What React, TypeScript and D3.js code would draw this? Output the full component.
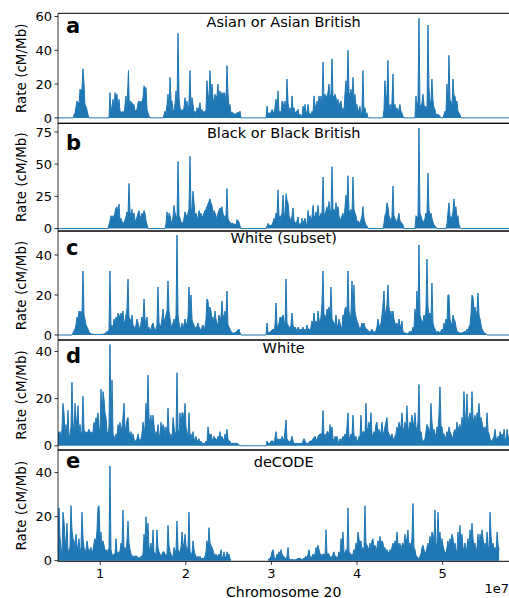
import * as d3 from "d3";

// [position in Mb, rate in cM/Mb]; null = no data
type Pt = [number, number | null];

const asian: Pt[] = [
  [4.0, 0], [6.82, 0], [7.06, 3], [7.29, 10], [7.52, 8], [7.64, 17], [7.76, 16], [7.87, 17], [7.99, 29], [8.11, 20], [8.22, 8], [8.4, 6], [8.57, 2], [8.69, 0],
  [11.03, 0], [11.14, 15], [11.26, 3], [11.5, 11], [11.61, 3], [11.73, 15], [11.85, 13], [11.96, 14], [12.08, 5], [12.2, 11], [12.31, 4], [12.55, 3], [12.66, 4], [12.78, 2], [13.01, 13], [13.13, 5], [13.3, 28], [13.4, 6], [13.5, 10], [13.71, 9], [13.83, 7], [13.95, 8], [14.06, 4], [14.3, 5], [14.42, 9], [14.53, 10], [14.65, 8], [14.77, 10], [14.88, 9], [15.0, 12], [15.12, 19], [15.23, 17], [15.35, 18], [15.47, 5], [15.58, 3], [15.7, 1], [15.82, 0],
  [17.34, 0], [17.46, 2], [17.57, 4], [17.69, 3], [17.81, 8], [17.92, 14], [18.04, 5], [18.16, 24], [18.27, 10], [18.39, 10], [18.51, 3], [18.62, 5], [18.74, 8], [18.86, 16], [18.97, 6], [19.09, 50], [19.21, 12], [19.32, 6], [19.44, 4], [19.56, 5], [19.67, 3], [19.79, 6], [19.91, 12], [20.02, 5], [20.14, 10], [20.26, 4], [20.37, 8], [20.49, 28], [20.61, 5], [20.72, 12], [20.84, 8], [20.96, 3], [21.07, 4], [21.19, 2], [21.31, 6], [21.42, 4], [21.54, 6], [21.66, 9], [21.77, 3], [21.89, 5], [22.01, 2], [22.12, 4], [22.24, 3], [22.36, 5], [22.47, 22], [22.59, 14], [22.71, 10], [22.82, 28], [22.94, 13], [23.06, 20], [23.17, 12], [23.29, 8], [23.41, 14], [23.52, 12], [23.64, 13], [23.76, 20], [23.87, 10], [23.99, 16], [24.11, 12], [24.22, 15], [24.34, 13], [24.46, 15], [24.57, 14], [24.69, 9], [24.81, 31], [24.92, 15], [25.04, 6], [25.16, 8], [25.27, 3], [25.51, 3], [25.74, 2], [25.98, 3], [26.21, 3], [26.33, 4], [26.45, 0],
  [29.37, 0], [29.49, 7], [29.61, 2], [29.72, 3], [29.84, 2], [30.07, 5], [30.19, 4], [30.31, 2], [30.54, 11], [30.66, 4], [30.77, 16], [30.89, 3], [31.01, 4], [31.12, 2], [31.24, 10], [31.36, 9], [31.47, 5], [31.59, 10], [31.71, 3], [31.82, 23], [31.94, 9], [32.06, 4], [32.17, 6], [32.29, 2], [32.41, 13], [32.52, 5], [32.64, 6], [32.76, 3], [32.99, 4], [33.11, 5], [33.22, 2], [33.34, 2], [33.58, 1], [33.69, 7], [33.81, 3], [33.93, 8], [34.04, 2], [34.16, 4], [34.28, 8], [34.39, 3], [34.63, 2], [34.74, 4], [34.86, 3], [34.98, 13], [35.09, 4], [35.21, 8], [35.33, 10], [35.44, 4], [35.56, 13], [35.68, 9], [35.79, 13], [35.91, 6], [36.03, 33], [36.14, 10], [36.26, 14], [36.38, 12], [36.49, 13], [36.61, 15], [36.73, 20], [36.84, 12], [36.96, 14], [37.08, 35], [37.19, 13], [37.31, 12], [37.43, 14], [37.54, 12], [37.66, 8], [37.78, 11], [37.89, 6], [38.01, 9], [38.13, 10], [38.24, 4], [38.36, 6], [38.48, 3], [38.59, 14], [38.71, 22], [38.83, 14], [38.94, 40], [39.06, 15], [39.18, 13], [39.29, 17], [39.41, 12], [39.53, 24], [39.64, 10], [39.76, 14], [39.88, 6], [39.99, 8], [40.11, 3], [40.23, 5], [40.34, 7], [40.46, 2], [40.58, 4], [40.69, 28], [40.81, 4], [40.93, 6], [41.04, 2], [41.16, 3], [41.28, 0],
  [43.03, 0], [43.15, 5], [43.26, 22], [43.38, 10], [43.5, 14], [43.61, 34], [43.73, 6], [43.85, 8], [43.96, 5], [44.08, 9], [44.2, 26], [44.31, 5], [44.43, 8], [44.55, 3], [44.66, 6], [44.78, 4], [44.9, 5], [45.01, 8], [45.13, 4], [45.25, 3], [45.36, 1], [45.48, 0],
  [46.77, 0], [46.89, 13], [47.0, 4], [47.12, 10], [47.24, 59], [47.35, 8], [47.47, 6], [47.59, 9], [47.7, 14], [47.82, 8], [47.94, 5], [48.05, 7], [48.17, 3], [48.29, 55], [48.4, 18], [48.52, 10], [48.64, 9], [48.75, 23], [48.87, 10], [48.99, 6], [49.1, 5], [49.22, 2], [49.46, 2], [49.69, 1], [49.8, 0],
  [50.04, 0], [50.16, 2], [50.27, 4], [50.39, 3], [50.51, 20], [50.62, 8], [50.74, 37], [50.86, 10], [50.97, 10], [51.09, 6], [51.21, 23], [51.32, 13], [51.44, 13], [51.56, 8], [51.67, 10], [51.79, 4], [51.91, 3], [52.02, 2], [52.14, 0],
  [60.0, 0],
];

const black: Pt[] = [
  [4.0, 0], [10.91, 0], [11.03, 3], [11.14, 6], [11.26, 10], [11.38, 8], [11.5, 10], [11.61, 7], [11.73, 13], [11.85, 16], [11.96, 17], [12.08, 10], [12.2, 19], [12.31, 6], [12.43, 8], [12.55, 5], [12.66, 5], [12.78, 4], [12.9, 7], [13.01, 9], [13.13, 13], [13.25, 10], [13.36, 35], [13.48, 13], [13.6, 9], [13.71, 15], [13.83, 8], [13.95, 12], [14.06, 7], [14.18, 6], [14.3, 9], [14.42, 12], [14.53, 14], [14.65, 10], [14.77, 8], [14.88, 12], [15.0, 10], [15.12, 14], [15.23, 12], [15.35, 6], [15.47, 3], [15.58, 0],
  [17.57, 0], [17.69, 4], [17.81, 13], [17.92, 5], [18.04, 12], [18.16, 10], [18.27, 6], [18.39, 4], [18.51, 9], [18.62, 18], [18.74, 12], [18.86, 10], [18.97, 6], [19.09, 52], [19.21, 10], [19.32, 8], [19.44, 5], [19.56, 5], [19.67, 3], [19.79, 8], [19.91, 13], [20.02, 11], [20.14, 8], [20.26, 12], [20.37, 15], [20.49, 56], [20.61, 14], [20.72, 15], [20.84, 29], [20.96, 20], [21.07, 10], [21.19, 12], [21.31, 9], [21.42, 7], [21.54, 14], [21.66, 10], [21.77, 12], [21.89, 8], [22.01, 10], [22.12, 12], [22.24, 14], [22.36, 15], [22.47, 17], [22.59, 19], [22.71, 21], [22.82, 23], [22.94, 20], [23.06, 18], [23.17, 10], [23.29, 14], [23.41, 12], [23.52, 10], [23.64, 6], [23.76, 12], [23.87, 14], [23.99, 16], [24.11, 13], [24.22, 17], [24.34, 12], [24.46, 8], [24.57, 10], [24.69, 9], [24.81, 31], [24.92, 8], [25.04, 6], [25.16, 5], [25.27, 4], [25.51, 4], [25.74, 3], [25.86, 3], [25.98, 7], [26.1, 6], [26.21, 5], [26.33, 2], [26.45, 0],
  [29.37, 0], [29.49, 2], [29.61, 4], [29.84, 2], [30.07, 3], [30.19, 5], [30.31, 8], [30.42, 6], [30.54, 12], [30.66, 10], [30.77, 30], [30.89, 8], [31.01, 10], [31.12, 7], [31.24, 12], [31.36, 26], [31.47, 10], [31.59, 12], [31.71, 27], [31.82, 22], [31.94, 20], [32.06, 10], [32.17, 8], [32.29, 6], [32.41, 10], [32.52, 16], [32.64, 6], [32.76, 5], [32.87, 3], [32.99, 6], [33.11, 9], [33.22, 3], [33.34, 4], [33.46, 3], [33.58, 8], [33.69, 4], [33.81, 6], [33.93, 8], [34.04, 4], [34.16, 3], [34.28, 14], [34.39, 6], [34.51, 10], [34.63, 5], [34.74, 9], [34.86, 18], [34.98, 8], [35.09, 10], [35.21, 13], [35.33, 9], [35.44, 18], [35.56, 10], [35.68, 8], [35.79, 12], [35.91, 11], [36.03, 40], [36.14, 12], [36.26, 10], [36.38, 14], [36.49, 17], [36.61, 12], [36.73, 21], [36.84, 15], [36.96, 10], [37.08, 48], [37.19, 14], [37.31, 15], [37.43, 12], [37.54, 20], [37.66, 14], [37.78, 17], [37.89, 10], [38.01, 6], [38.13, 8], [38.24, 10], [38.36, 12], [38.48, 6], [38.59, 16], [38.71, 26], [38.83, 18], [38.94, 41], [39.06, 14], [39.18, 12], [39.29, 15], [39.41, 10], [39.53, 40], [39.64, 15], [39.76, 12], [39.88, 10], [39.99, 5], [40.11, 6], [40.23, 5], [40.34, 4], [40.46, 7], [40.58, 10], [40.69, 17], [40.81, 8], [40.93, 5], [41.04, 3], [41.16, 2], [41.28, 0],
  [43.03, 0], [43.15, 4], [43.26, 10], [43.38, 12], [43.5, 20], [43.61, 17], [43.73, 10], [43.85, 8], [43.96, 6], [44.08, 9], [44.2, 33], [44.31, 10], [44.43, 8], [44.55, 5], [44.66, 6], [44.78, 8], [44.9, 12], [45.01, 6], [45.13, 5], [45.25, 4], [45.36, 3], [45.48, 0],
  [46.77, 0], [46.89, 10], [47.0, 9], [47.12, 8], [47.24, 78], [47.35, 12], [47.47, 10], [47.59, 7], [47.7, 6], [47.82, 4], [47.94, 8], [48.05, 12], [48.17, 10], [48.29, 43], [48.4, 15], [48.52, 10], [48.64, 12], [48.75, 8], [48.87, 5], [48.99, 3], [49.1, 2], [49.22, 1], [49.34, 0],
  [50.39, 0], [50.51, 4], [50.62, 12], [50.74, 20], [50.86, 10], [50.97, 8], [51.09, 9], [51.21, 13], [51.32, 23], [51.44, 15], [51.56, 17], [51.67, 8], [51.79, 10], [51.91, 3], [52.02, 1], [52.14, 0],
  [60.0, 0],
];

const whiteSubset: Pt[] = [
  [4.0, 0], [6.7, 0], [6.82, 1], [6.94, 2], [7.06, 3], [7.17, 5], [7.29, 9], [7.41, 8], [7.52, 12], [7.64, 10], [7.76, 12], [7.87, 9], [7.99, 32], [8.11, 10], [8.22, 8], [8.34, 5], [8.46, 4], [8.57, 3], [8.69, 1.5], [8.81, 1], [8.92, 0.5], [9.39, 0.3], [9.98, 0.2], [10.44, 0.5], [10.68, 1], [10.79, 2], [10.91, 1], [11.03, 3],
  [11.14, 32], [11.26, 4], [11.38, 5], [11.5, 3], [11.61, 8], [11.73, 6], [11.85, 9], [11.96, 7], [12.08, 11], [12.2, 10], [12.31, 8], [12.43, 11], [12.55, 9], [12.66, 12], [12.78, 6], [12.9, 7], [13.01, 10], [13.13, 13], [13.25, 28], [13.36, 9], [13.48, 8], [13.6, 6], [13.71, 10], [13.83, 5], [13.95, 4], [14.06, 3], [14.18, 5], [14.3, 8], [14.42, 6], [14.53, 4], [14.65, 3], [14.77, 6], [14.88, 9], [15.0, 7], [15.12, 18], [15.23, 8], [15.35, 5], [15.47, 9], [15.58, 3], [15.7, 4], [15.82, 2], [15.93, 3], [16.05, 5], [16.17, 6], [16.28, 4], [16.4, 2], [16.52, 3], [16.63, 5], [16.75, 24], [16.87, 6], [16.98, 4], [17.1, 5], [17.22, 8], [17.34, 13], [17.45, 7], [17.57, 8], [17.69, 10], [17.81, 12], [17.92, 27], [18.04, 12], [18.16, 8], [18.27, 5], [18.39, 4], [18.51, 6], [18.62, 8], [18.74, 5], [18.86, 10], [18.97, 50], [19.09, 10], [19.21, 6], [19.32, 4], [19.44, 3], [19.56, 6], [19.67, 4], [19.79, 5], [19.91, 8], [20.02, 6], [20.14, 5], [20.26, 9], [20.37, 24], [20.49, 12], [20.61, 20], [20.72, 8], [20.84, 6], [20.96, 5], [21.07, 3], [21.19, 4], [21.31, 4], [21.42, 6], [21.54, 4], [21.66, 3], [21.77, 2], [21.89, 4], [22.01, 5], [22.12, 3], [22.24, 4], [22.36, 8], [22.47, 18], [22.59, 17], [22.71, 10], [22.82, 14], [22.94, 12], [23.06, 8], [23.17, 9], [23.29, 6], [23.41, 12], [23.52, 8], [23.64, 6], [23.76, 5], [23.87, 10], [23.99, 8], [24.11, 9], [24.22, 17], [24.34, 10], [24.46, 8], [24.57, 12], [24.69, 9], [24.81, 22], [24.92, 5], [25.04, 4], [25.16, 3], [25.27, 2], [25.39, 1], [25.51, 1], [25.74, 1], [25.98, 2], [26.21, 3], [26.33, 1], [26.45, 0],
  [29.37, 0], [29.49, 6], [29.61, 1], [29.84, 1.5], [29.96, 2], [30.19, 3], [30.31, 2], [30.42, 5], [30.54, 16], [30.66, 5], [30.77, 4], [30.89, 6], [31.01, 9], [31.12, 8], [31.24, 9], [31.36, 10], [31.47, 7], [31.59, 5], [31.71, 28], [31.82, 6], [31.94, 5], [32.06, 4], [32.17, 3], [32.29, 5], [32.41, 11], [32.52, 5], [32.64, 3], [32.76, 4], [32.87, 3], [32.99, 2], [33.11, 4], [33.22, 3], [33.34, 2], [33.46, 3], [33.58, 2], [33.69, 4], [33.81, 2], [33.93, 3], [34.04, 2], [34.16, 5], [34.28, 3], [34.39, 3], [34.51, 2], [34.63, 4], [34.74, 7], [34.86, 5], [34.98, 11], [35.09, 6], [35.21, 7], [35.33, 5], [35.44, 12], [35.56, 8], [35.68, 5], [35.79, 9], [35.91, 16], [36.03, 32], [36.14, 10], [36.26, 10], [36.38, 8], [36.49, 13], [36.61, 11], [36.73, 14], [36.84, 10], [36.96, 24], [37.08, 8], [37.19, 7], [37.31, 6], [37.43, 5], [37.54, 10], [37.66, 5], [37.78, 4], [37.89, 8], [38.01, 6], [38.13, 4], [38.24, 3], [38.36, 10], [38.48, 9], [38.59, 13], [38.71, 14], [38.83, 10], [38.94, 32], [39.06, 12], [39.18, 9], [39.29, 10], [39.41, 27], [39.53, 12], [39.64, 25], [39.76, 12], [39.88, 9], [39.99, 7], [40.11, 6], [40.23, 4], [40.34, 3], [40.46, 4], [40.58, 6], [40.69, 4], [40.81, 6], [40.93, 4], [41.04, 3], [41.16, 3], [41.28, 2], [41.39, 2], [41.51, 1], [41.74, 3], [41.86, 1], [41.98, 2], [42.1, 1], [42.21, 2], [42.33, 4], [42.45, 8], [42.56, 5], [42.68, 4], [42.8, 6], [42.92, 10], [43.03, 15], [43.15, 22], [43.26, 10], [43.38, 12], [43.5, 15], [43.61, 25], [43.73, 14], [43.85, 10], [43.96, 12], [44.08, 8], [44.2, 12], [44.31, 8], [44.43, 6], [44.55, 5], [44.66, 6], [44.78, 4], [44.9, 8], [45.01, 5], [45.13, 4], [45.25, 7], [45.36, 2], [45.48, 1], [45.71, 1], [45.95, 0.5], [46.18, 2], [46.3, 1], [46.42, 2], [46.54, 4], [46.65, 3], [46.77, 13], [46.89, 8], [47.0, 22], [47.12, 10], [47.24, 45], [47.35, 10], [47.47, 8], [47.59, 7], [47.7, 6], [47.82, 10], [47.94, 8], [48.05, 12], [48.17, 38], [48.29, 14], [48.4, 10], [48.52, 11], [48.64, 8], [48.75, 26], [48.87, 6], [48.99, 4], [49.1, 3], [49.22, 2], [49.34, 1], [49.46, 2], [49.69, 1], [49.92, 3], [50.04, 2], [50.16, 6], [50.27, 4], [50.39, 8], [50.51, 6], [50.62, 20], [50.74, 20], [50.86, 8], [50.97, 6], [51.09, 5], [51.21, 10], [51.32, 8], [51.44, 7], [51.56, 4], [51.67, 2], [51.79, 1.5], [52.02, 1], [52.26, 1], [52.49, 1.5], [52.61, 2], [52.73, 1], [52.84, 3], [52.96, 2], [53.08, 4], [53.2, 5], [53.31, 10], [53.43, 20], [53.55, 19], [53.66, 12], [53.78, 14], [53.9, 10], [54.02, 12], [54.13, 21], [54.25, 10], [54.37, 8], [54.49, 5], [54.6, 3], [54.72, 2], [54.84, 1], [54.95, 1], [55.07, 0.5], [55.19, 0],
  [60.0, 0],
];

const white: Pt[] = [
  [5.07, 6], [5.19, 5], [5.3, 6], [5.42, 3], [5.54, 7], [5.65, 18], [5.77, 14], [5.89, 4], [6.0, 9], [6.12, 4], [6.24, 15], [6.35, 3], [6.47, 5], [6.59, 8], [6.7, 27], [6.82, 10], [6.94, 5], [7.06, 18], [7.17, 8], [7.29, 12], [7.41, 17], [7.52, 6], [7.64, 9], [7.76, 5], [7.87, 6], [7.99, 21], [8.11, 7], [8.22, 5], [8.34, 6], [8.46, 5], [8.57, 6], [8.69, 7], [8.81, 5], [8.92, 6], [9.04, 5], [9.16, 6], [9.28, 10], [9.39, 8], [9.51, 12], [9.63, 10], [9.74, 14], [9.86, 8], [9.98, 5], [10.09, 24], [10.21, 12], [10.33, 23], [10.44, 20], [10.56, 14], [10.68, 12], [10.79, 6], [10.91, 5], [11.03, 8], [11.14, 43], [11.26, 10], [11.38, 28], [11.5, 5], [11.61, 4], [11.73, 3], [11.85, 5], [11.96, 4], [12.08, 9], [12.2, 6], [12.31, 10], [12.43, 7], [12.55, 8], [12.66, 12], [12.78, 18], [12.9, 7], [13.01, 8], [13.13, 11], [13.25, 12], [13.36, 6], [13.48, 4], [13.6, 6], [13.71, 3], [13.83, 5], [13.95, 3], [14.06, 2], [14.18, 2], [14.3, 3], [14.42, 5], [14.53, 3], [14.65, 2], [14.77, 3], [14.88, 5], [15.0, 10], [15.12, 6], [15.23, 8], [15.35, 18], [15.47, 12], [15.58, 30], [15.7, 12], [15.82, 8], [15.93, 13], [16.05, 6], [16.17, 13], [16.28, 9], [16.4, 4], [16.52, 6], [16.63, 4], [16.75, 9], [16.87, 5], [16.98, 3], [17.1, 10], [17.22, 5], [17.34, 9], [17.45, 8], [17.57, 4], [17.69, 8], [17.81, 5], [17.92, 16], [18.04, 6], [18.16, 4], [18.27, 5], [18.39, 3], [18.51, 12], [18.62, 8], [18.74, 5], [18.86, 6], [18.97, 31], [19.09, 7], [19.21, 5], [19.32, 14], [19.44, 8], [19.56, 14], [19.67, 14], [19.79, 10], [19.91, 18], [20.02, 8], [20.14, 6], [20.26, 3], [20.37, 14], [20.49, 4], [20.61, 5], [20.72, 3], [20.84, 6], [20.96, 3], [21.07, 2], [21.19, 4], [21.31, 2], [21.42, 2], [21.54, 3], [21.66, 1], [21.77, 2], [21.89, 1], [22.01, 1], [22.24, 1], [22.36, 2], [22.47, 1], [22.59, 8], [22.71, 5], [22.82, 4], [22.94, 5], [23.06, 3], [23.17, 2], [23.29, 4], [23.41, 3], [23.52, 3], [23.64, 2], [23.76, 4], [23.87, 3], [23.99, 6], [24.11, 2], [24.22, 4], [24.34, 3], [24.46, 2], [24.57, 5], [24.69, 3], [24.81, 7], [24.92, 3], [25.04, 2], [25.16, 2], [25.27, 1], [25.51, 1], [25.74, 1], [25.98, 1], [26.21, 0.5], [26.33, 0],
  [29.37, 0], [29.49, 2], [29.61, 1], [29.84, 1], [29.96, 2], [30.19, 2], [30.31, 1], [30.54, 6], [30.66, 2], [30.77, 3], [30.89, 2], [31.01, 3], [31.12, 2], [31.24, 4], [31.36, 3], [31.47, 2], [31.71, 11], [31.82, 3], [31.94, 2], [32.06, 2], [32.17, 1], [32.41, 4], [32.52, 2], [32.64, 1], [32.87, 1], [33.11, 1], [33.34, 1], [33.58, 1], [33.69, 2], [33.81, 3], [34.04, 1], [34.28, 1], [34.51, 2], [34.74, 2], [34.86, 3], [35.09, 4], [35.33, 2], [35.44, 4], [35.68, 5], [35.91, 5], [36.03, 15], [36.14, 4], [36.26, 5], [36.38, 3], [36.49, 6], [36.61, 6], [36.73, 4], [36.84, 9], [36.96, 5], [37.08, 8], [37.19, 3], [37.31, 2], [37.43, 4], [37.54, 3], [37.66, 4], [37.78, 2], [37.89, 1], [38.01, 3], [38.13, 2], [38.24, 3], [38.36, 4], [38.48, 3], [38.59, 5], [38.71, 4], [38.83, 8], [38.94, 14], [39.06, 4], [39.18, 3], [39.29, 5], [39.41, 4], [39.53, 13], [39.64, 5], [39.76, 3], [39.88, 4], [39.99, 2], [40.11, 2], [40.23, 4], [40.34, 3], [40.46, 13], [40.58, 4], [40.69, 6], [40.81, 6], [40.93, 4], [41.04, 18], [41.16, 8], [41.28, 6], [41.39, 10], [41.51, 7], [41.63, 14], [41.74, 5], [41.86, 4], [41.98, 6], [42.1, 5], [42.21, 9], [42.33, 10], [42.45, 5], [42.56, 7], [42.68, 5], [42.8, 6], [42.92, 10], [43.03, 4], [43.15, 6], [43.26, 8], [43.38, 10], [43.5, 12], [43.61, 6], [43.73, 5], [43.85, 4], [43.96, 4], [44.08, 5], [44.2, 3], [44.31, 3], [44.43, 4], [44.55, 5], [44.66, 8], [44.78, 6], [44.9, 10], [45.01, 8], [45.13, 8], [45.25, 14], [45.36, 8], [45.48, 6], [45.6, 10], [45.71, 7], [45.83, 17], [45.95, 8], [46.07, 6], [46.18, 10], [46.3, 9], [46.42, 13], [46.54, 10], [46.65, 8], [46.77, 14], [46.89, 8], [47.0, 6], [47.12, 10], [47.24, 26], [47.35, 6], [47.47, 6], [47.59, 3], [47.7, 2], [47.82, 2], [47.94, 3], [48.05, 6], [48.17, 9], [48.29, 8], [48.4, 7], [48.52, 5], [48.64, 18], [48.75, 10], [48.87, 6], [48.99, 7], [49.1, 5], [49.22, 4], [49.34, 8], [49.46, 7], [49.57, 13], [49.69, 25], [49.81, 8], [49.92, 8], [50.04, 5], [50.16, 5], [50.27, 4], [50.39, 3], [50.51, 6], [50.62, 4], [50.74, 8], [50.86, 6], [50.97, 5], [51.09, 4], [51.21, 3], [51.32, 6], [51.44, 7], [51.56, 5], [51.67, 10], [51.79, 6], [51.91, 8], [52.02, 9], [52.14, 6], [52.26, 12], [52.38, 8], [52.49, 23], [52.61, 14], [52.73, 8], [52.84, 22], [52.96, 10], [53.08, 12], [53.2, 14], [53.31, 10], [53.43, 23], [53.55, 12], [53.66, 10], [53.78, 13], [53.9, 9], [54.02, 14], [54.13, 12], [54.25, 18], [54.37, 11], [54.49, 12], [54.6, 10], [54.72, 8], [54.84, 6], [54.95, 8], [55.07, 6], [55.19, 14], [55.31, 6], [55.42, 5], [55.54, 3], [55.66, 2], [55.78, 2], [55.89, 3], [56.01, 4], [56.13, 7], [56.25, 3], [56.36, 3], [56.48, 4], [56.6, 3], [56.71, 6], [56.83, 4], [56.95, 5], [57.06, 3], [57.18, 7], [57.3, 3], [57.42, 2], [57.53, 7], [57.65, 4], [57.77, 3], [57.88, 4],
];

const decode: Pt[] = [
  [5.07, 8], [5.19, 24], [5.3, 11], [5.42, 6], [5.54, 2], [5.65, 22], [5.77, 18], [5.89, 10], [6.0, 7], [6.12, 17], [6.24, 3], [6.35, 5], [6.47, 6], [6.59, 25], [6.7, 14], [6.82, 10], [6.94, 9], [7.06, 6], [7.17, 12], [7.29, 7], [7.41, 5], [7.52, 10], [7.64, 4], [7.76, 6], [7.87, 22], [7.99, 10], [8.11, 6], [8.22, 4], [8.34, 5], [8.46, 9], [8.57, 6], [8.69, 4], [8.81, 5], [8.92, 6], [9.04, 3], [9.16, 5], [9.28, 8], [9.39, 10], [9.51, 8], [9.63, 14], [9.74, 24], [9.86, 25], [9.98, 10], [10.09, 13], [10.21, 6], [10.33, 9], [10.44, 7], [10.56, 5], [10.68, 4], [10.79, 5], [10.91, 3], [11.03, 6], [11.14, 43], [11.26, 5], [11.38, 3], [11.5, 2], [11.61, 3], [11.73, 3], [11.85, 10], [11.96, 4], [12.08, 3], [12.2, 4], [12.31, 4], [12.43, 8], [12.55, 6], [12.66, 23], [12.78, 5], [12.9, 6], [13.01, 4], [13.13, 9], [13.25, 18], [13.36, 8], [13.48, 5], [13.6, 3], [13.71, 2], [13.83, 2], [14.06, 2], [14.3, 2], [14.53, 1], [14.77, 2], [14.88, 2], [15.0, 3], [15.12, 12], [15.23, 8], [15.35, 20], [15.47, 10], [15.58, 17], [15.7, 6], [15.82, 5], [15.93, 8], [16.05, 4], [16.17, 14], [16.28, 4], [16.4, 3], [16.52, 3], [16.63, 14], [16.75, 6], [16.87, 4], [16.98, 3], [17.1, 2], [17.22, 3], [17.34, 4], [17.45, 4], [17.57, 3], [17.69, 2], [17.81, 3], [17.92, 16], [18.04, 7], [18.16, 4], [18.27, 3], [18.39, 2], [18.51, 2], [18.62, 6], [18.74, 4], [18.86, 5], [18.97, 18], [19.09, 5], [19.21, 4], [19.32, 4], [19.44, 6], [19.56, 13], [19.67, 8], [19.79, 6], [19.91, 12], [20.02, 7], [20.14, 5], [20.26, 6], [20.37, 22], [20.49, 4], [20.61, 3], [20.72, 3], [20.84, 9], [20.96, 5], [21.07, 3], [21.19, 2], [21.31, 1], [21.42, 2], [21.54, 1], [21.66, 2], [21.77, 1], [21.89, 1], [22.12, 1], [22.24, 2], [22.36, 4], [22.47, 9], [22.59, 6], [22.71, 15], [22.82, 8], [22.94, 7], [23.06, 6], [23.17, 5], [23.29, 3], [23.41, 2], [23.52, 3], [23.64, 2], [23.76, 2], [23.87, 3], [23.99, 2], [24.11, 5], [24.22, 2], [24.34, 1], [24.46, 4], [24.57, 2], [24.69, 1], [24.81, 4], [24.92, 2], [25.04, 3], [25.16, 1], [25.27, 0.5],
  [26.0, null],
  [29.61, 0.5], [29.84, 1], [29.96, 2], [30.07, 4], [30.19, 5], [30.31, 2], [30.42, 1], [30.54, 1], [30.66, 3], [30.77, 2], [30.89, 4], [31.01, 3], [31.12, 5], [31.24, 3], [31.36, 2], [31.47, 2], [31.59, 1], [31.71, 1], [31.82, 2], [31.94, 6], [32.06, 1], [32.17, 0.5], [32.41, 0.5], [32.64, 0.3], [32.87, 0.5], [33.11, 1], [33.34, 1], [33.58, 0.5], [33.81, 1], [33.93, 1.5], [34.04, 2], [34.16, 1], [34.28, 3], [34.39, 5], [34.51, 2], [34.63, 1], [34.74, 2], [34.86, 3], [34.98, 2], [35.09, 3], [35.21, 6], [35.33, 4], [35.44, 7], [35.56, 5], [35.68, 3], [35.79, 3], [35.91, 2], [36.03, 3], [36.14, 3], [36.26, 2], [36.38, 14], [36.49, 3], [36.61, 3], [36.73, 3], [36.84, 1], [36.96, 2], [37.08, 1], [37.19, 3], [37.31, 4], [37.43, 2], [37.54, 2], [37.66, 1], [37.78, 2], [37.89, 4], [38.01, 2], [38.13, 10], [38.24, 6], [38.36, 13], [38.48, 4], [38.59, 3], [38.71, 5], [38.83, 3], [38.94, 24], [39.06, 4], [39.18, 3], [39.29, 3], [39.41, 2], [39.53, 3], [39.64, 5], [39.76, 4], [39.88, 8], [39.99, 6], [40.11, 13], [40.23, 10], [40.34, 7], [40.46, 9], [40.58, 5], [40.69, 6], [40.81, 4], [40.93, 25], [41.04, 8], [41.16, 7], [41.28, 6], [41.39, 5], [41.51, 8], [41.63, 5], [41.74, 9], [41.86, 10], [41.98, 6], [42.1, 7], [42.21, 5], [42.33, 6], [42.45, 9], [42.56, 6], [42.68, 11], [42.8, 7], [42.92, 9], [43.03, 8], [43.15, 5], [43.26, 6], [43.38, 4], [43.5, 5], [43.61, 4], [43.73, 3], [43.85, 5], [43.96, 4], [44.08, 6], [44.2, 8], [44.31, 6], [44.43, 9], [44.55, 7], [44.66, 13], [44.78, 8], [44.9, 6], [45.01, 8], [45.13, 5], [45.25, 7], [45.36, 8], [45.48, 6], [45.6, 12], [45.71, 8], [45.83, 10], [45.95, 14], [46.07, 6], [46.18, 8], [46.3, 7], [46.42, 10], [46.54, 26], [46.65, 6], [46.77, 5], [46.89, 2], [47.0, 2], [47.12, 1], [47.24, 1], [47.35, 2], [47.47, 3], [47.59, 6], [47.7, 7], [47.82, 5], [47.94, 4], [48.05, 3], [48.17, 6], [48.29, 8], [48.4, 5], [48.52, 11], [48.64, 7], [48.75, 13], [48.87, 12], [48.99, 8], [49.1, 23], [49.22, 6], [49.34, 8], [49.46, 22], [49.57, 10], [49.69, 13], [49.81, 6], [49.92, 10], [50.04, 7], [50.16, 5], [50.27, 4], [50.39, 3], [50.51, 6], [50.62, 9], [50.74, 6], [50.86, 10], [50.97, 8], [51.09, 12], [51.21, 10], [51.32, 6], [51.44, 8], [51.56, 5], [51.67, 3], [51.79, 13], [51.91, 7], [52.02, 16], [52.14, 8], [52.26, 12], [52.38, 6], [52.49, 5], [52.61, 8], [52.73, 4], [52.84, 6], [52.96, 10], [53.08, 6], [53.2, 14], [53.31, 8], [53.43, 17], [53.55, 10], [53.66, 7], [53.78, 8], [53.9, 4], [54.02, 6], [54.13, 12], [54.25, 5], [54.37, 12], [54.49, 8], [54.6, 14], [54.72, 10], [54.84, 6], [54.95, 8], [55.07, 5], [55.19, 13], [55.31, 7], [55.42, 4], [55.54, 22], [55.66, 11], [55.78, 6], [55.89, 8], [56.01, 5], [56.13, 6], [56.25, 4], [56.36, 13], [56.48, 7], [56.6, 5],
];

const series = [asian, black, whiteSubset, white, decode];
const titles = ["Asian or Asian British", "Black or Black British", "White (subset)", "White", "deCODE"];
const letters = ["a", "b", "c", "d", "e"];
const yTicks = [[0, 20, 40, 60], [0, 25, 50, 75], [0, 20, 40], [0, 20, 40], [0, 20, 40]];
const yLims: [number, number][] = [[-3.2, 61.9], [-1.9, 81.7], [-2.5, 52], [-1.8, 44.9], [-0.3, 50.3]];
const xTicks = [1, 2, 3, 4, 5]; // x 1e7 bp

// layout
const W = 509;
const H = 598;
const left = 58;
const right = 509.4;
const tops = [13.3, 123.3, 231, 340, 450];
const bottoms = [123.3, 231, 340, 450, 561.3];
const letterY = [20, 26.7, 24, 23.3, 18.3];
const titleY = [14, 15, 11.5, 13.3, 16.7];
const blue = "#1f77b4";
const font = "DejaVu Sans, sans-serif";

const x = d3.scaleLinear().domain([5.07, 57.8]).range([left, right]);

function Panel({ i }: { i: number }) {
  const top = tops[i];
  const bottom = bottoms[i];
  const y = d3.scaleLinear().domain(yLims[i]).range([bottom, top]);
  const data = series[i];
  const area = d3
    .area<Pt>()
    .defined((d) => d[1] !== null)
    .x((d) => x(d[0]))
    .y0(y(0))
    .y1((d) => y(d[1] as number));
  const line = d3
    .line<Pt>()
    .defined((d) => d[1] !== null)
    .x((d) => x(d[0]))
    .y((d) => y(d[1] as number));
  const cx = (left + right) / 2;
  const clipId = `clip-${i}`;
  return (
    <g>
      <clipPath id={clipId}>
        <rect x={left} y={top} width={W + 10 - left} height={bottom - top} />
      </clipPath>
      <g clipPath={`url(#${clipId})`}>
        <path d={area(data) || ""} fill={blue} stroke="none" />
        <path d={line(data) || ""} fill="none" stroke={blue} strokeWidth={1} strokeLinejoin="round" />
      </g>
      {/* frame */}
      <line x1={left} x2={W + 5} y1={top} y2={top} stroke="#000" strokeWidth={1} />
      <line x1={left} x2={W + 5} y1={bottom} y2={bottom} stroke="#000" strokeWidth={1} />
      <line x1={left} x2={left} y1={top} y2={bottom} stroke="#000" strokeWidth={0.8} />
      {yTicks[i].map((t) => (
        <g key={t} transform={`translate(0,${y(t)})`}>
          <line x1={left - 3.5} x2={left} stroke="#000" strokeWidth={0.8} />
          <text x={left - 6} dy="0.36em" textAnchor="end" fontSize={13} fontFamily={font} fill="#000">
            {t}
          </text>
        </g>
      ))}
      <text
        transform={`translate(26,${(top + bottom) / 2}) rotate(-90)`}
        textAnchor="middle"
        fontSize={13.5}
        fontFamily={font}
        fill="#000"
      >
        Rate (cM/Mb)
      </text>
      <text x={cx} y={top + titleY[i]} textAnchor="middle" fontSize={14.5} fontFamily={font} fill="#000">
        {titles[i]}
      </text>
      <text x={66} y={top + letterY[i]} fontSize={21} fontWeight="bold" fontFamily={font} fill="#000">
        {letters[i]}
      </text>
    </g>
  );
}

export default function App() {
  const bottom = bottoms[4];
  return (
    <svg width={W} height={H} style={{ position: "absolute", left: 0, top: 0, background: "#fff" }}>
      {series.map((_, i) => (
        <Panel key={i} i={i} />
      ))}
      {xTicks.map((t) => (
        <g key={t} transform={`translate(${x(t * 10)},${bottom})`}>
          <line y1={0} y2={3.5} stroke="#000" strokeWidth={0.8} />
          <text y={17} textAnchor="middle" fontSize={13} fontFamily={font} fill="#000">
            {t}
          </text>
        </g>
      ))}
      <text x={(left + right) / 2} y={596.5} textAnchor="middle" fontSize={14} fontFamily={font} fill="#000">
        Chromosome 20
      </text>
      <text x={509} y={593} textAnchor="end" fontSize={13} fontFamily={font} fill="#000">
        1e7
      </text>
    </svg>
  );
}
